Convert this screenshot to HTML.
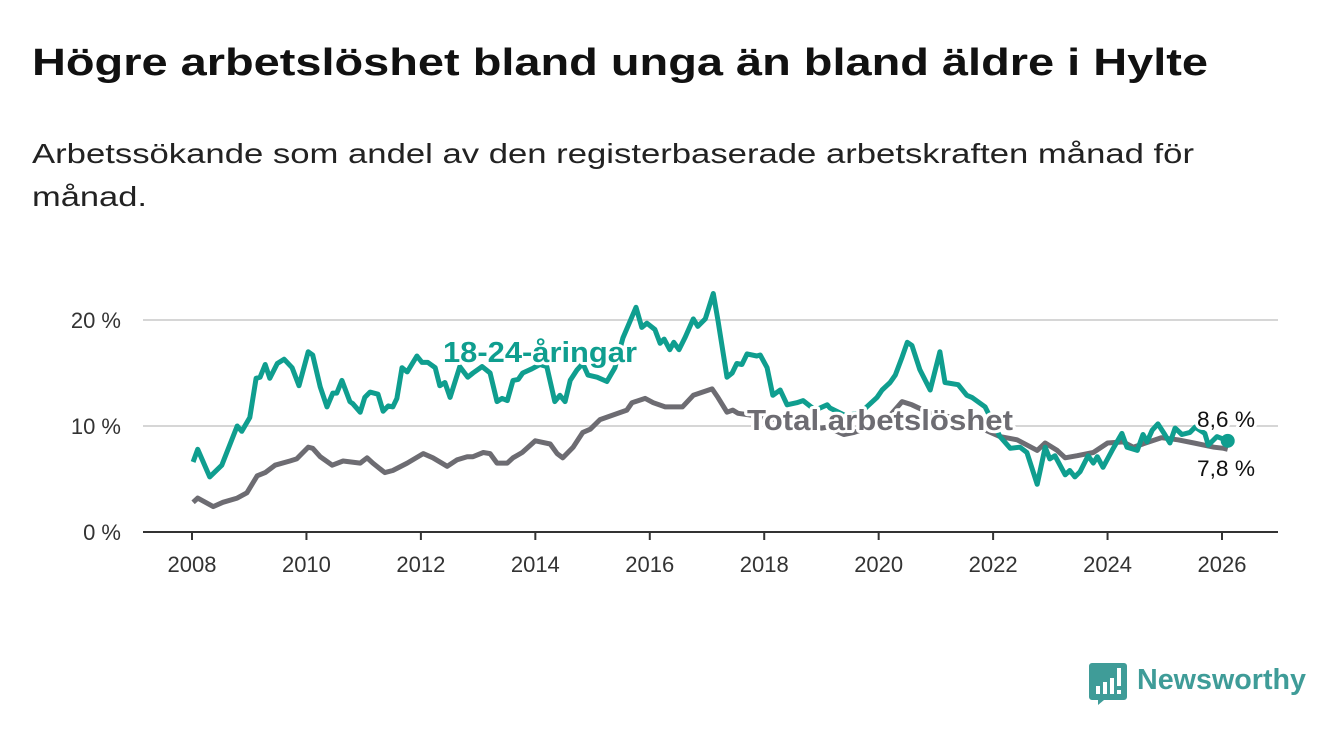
<!DOCTYPE html>
<html><head><meta charset="utf-8">
<style>
html,body{margin:0;padding:0;background:#fff;}
svg{display:block;font-family:"Liberation Sans",sans-serif;}
</style></head>
<body>
<svg id="chart" width="1340" height="734" viewBox="0 0 1340 734">
  <text x="32" y="75" font-size="38" font-weight="bold" fill="#111" textLength="1176" lengthAdjust="spacingAndGlyphs">Högre arbetslöshet bland unga än bland äldre i Hylte</text>
  <text x="32" y="163" font-size="28" fill="#222" textLength="1162" lengthAdjust="spacingAndGlyphs">Arbetssökande som andel av den registerbaserade arbetskraften månad för</text>
  <text x="32" y="206" font-size="28" fill="#222" textLength="115" lengthAdjust="spacingAndGlyphs">månad.</text>
  <g id="grid"></g>
  <g id="xaxis"></g>
  <g id="yaxis"></g>
  <g id="series"></g>
  <g id="labels"></g>
  <g>
    <path d="M1092 663 h32 a3 3 0 0 1 3 3 v31 a3 3 0 0 1 -3 3 h-20 l-6 5 v-5 h-6 a3 3 0 0 1 -3 -3 v-31 a3 3 0 0 1 3 -3z" fill="#3f9c98"/>
    <rect x="1096" y="686" width="4" height="8" fill="#fff"/>
    <rect x="1103" y="682" width="4" height="12" fill="#fff"/>
    <rect x="1110" y="678" width="4" height="16" fill="#fff"/>
    <rect x="1117" y="668" width="4" height="18" fill="#fff"/>
    <rect x="1117" y="690" width="4" height="4" fill="#fff"/>
    <text x="1137" y="689" font-size="29" font-weight="bold" fill="#3f9c98" textLength="169" lengthAdjust="spacingAndGlyphs">Newsworthy</text>
  </g>
</svg>
<script>
const youthYears=[2008.02,2008.10,2008.31,2008.52,2008.79,2008.87,2009.01,2009.12,2009.19,2009.28,2009.36,2009.49,2009.61,2009.75,2009.87,2010.03,2010.11,2010.24,2010.36,2010.46,2010.53,2010.62,2010.76,2010.81,2010.94,2011.02,2011.11,2011.25,2011.34,2011.43,2011.51,2011.58,2011.67,2011.76,2011.93,2012.02,2012.12,2012.25,2012.33,2012.42,2012.51,2012.68,2012.82,2012.91,2013.07,2013.21,2013.33,2013.42,2013.51,2013.61,2013.70,2013.78,2013.94,2014.08,2014.20,2014.34,2014.43,2014.52,2014.61,2014.73,2014.83,2014.92,2015.08,2015.25,2015.39,2015.53,2015.76,2015.86,2015.95,2016.09,2016.18,2016.25,2016.35,2016.42,2016.51,2016.62,2016.76,2016.84,2016.97,2017.11,2017.19,2017.35,2017.44,2017.52,2017.61,2017.70,2017.87,2017.93,2018.05,2018.15,2018.28,2018.40,2018.57,2018.68,2018.89,2019.10,2019.15,2019.41,2019.67,2019.97,2020.06,2020.20,2020.29,2020.41,2020.50,2020.58,2020.72,2020.90,2021.07,2021.16,2021.39,2021.54,2021.63,2021.86,2022.12,2022.30,2022.47,2022.59,2022.77,2022.91,2022.99,2023.08,2023.26,2023.34,2023.43,2023.52,2023.66,2023.75,2023.82,2023.92,2024.08,2024.25,2024.34,2024.52,2024.62,2024.69,2024.78,2024.88,2025.00,2025.09,2025.18,2025.30,2025.44,2025.53,2025.70,2025.76,2025.91,2026.10];
const youthValues=[6.6,7.8,5.2,6.3,10.0,9.5,10.8,14.5,14.6,15.8,14.5,15.9,16.3,15.5,13.8,17.0,16.7,13.7,11.8,13.1,13.1,14.3,12.3,12.1,11.3,12.7,13.2,13.0,11.4,11.9,11.8,12.6,15.5,15.1,16.6,16.0,16.0,15.5,13.8,14.1,12.7,15.6,14.6,15.0,15.6,15.0,12.3,12.6,12.4,14.3,14.4,15.0,15.4,15.8,15.6,12.3,12.9,12.3,14.3,15.3,15.9,14.8,14.6,14.2,15.5,18.3,21.2,19.3,19.7,19.1,17.8,18.2,17.2,17.9,17.2,18.4,20.1,19.4,20.1,22.5,20.0,14.6,15.0,15.9,15.8,16.8,16.6,16.7,15.5,12.9,13.4,12.0,12.2,12.4,11.5,12.0,11.7,11.0,11.2,12.7,13.4,14.1,14.8,16.5,17.9,17.6,15.3,13.4,17.0,14.1,13.9,12.9,12.7,11.8,9.0,7.9,8.0,7.5,4.5,8.0,6.9,7.2,5.4,5.8,5.2,5.7,7.2,6.5,7.1,6.1,7.7,9.3,8.0,7.7,9.2,8.5,9.6,10.2,9.2,8.4,9.8,9.2,9.4,9.9,9.3,8.2,9.0,8.6];
const totalYears=[2008.02,2008.10,2008.37,2008.54,2008.79,2008.96,2009.14,2009.28,2009.45,2009.71,2009.83,2010.03,2010.11,2010.24,2010.45,2010.64,2010.94,2011.06,2011.16,2011.37,2011.51,2011.76,2012.04,2012.21,2012.46,2012.63,2012.81,2012.91,2013.09,2013.21,2013.33,2013.51,2013.61,2013.77,2014.00,2014.26,2014.38,2014.48,2014.66,2014.83,2014.96,2015.13,2015.34,2015.60,2015.69,2015.92,2016.06,2016.27,2016.57,2016.76,2017.09,2017.19,2017.35,2017.45,2017.54,2017.80,2018.20,2018.60,2019.00,2019.10,2019.39,2019.57,2019.90,2020.20,2020.41,2020.58,2020.90,2021.30,2021.70,2022.12,2022.42,2022.77,2022.91,2023.12,2023.26,2023.47,2023.75,2024.00,2024.27,2024.45,2024.94,2025.23,2025.51,2025.86,2026.03,2026.10];
const totalValues=[2.8,3.2,2.4,2.8,3.2,3.7,5.3,5.6,6.3,6.7,6.9,8.0,7.9,7.1,6.3,6.7,6.5,7.0,6.5,5.6,5.8,6.5,7.4,7.0,6.2,6.8,7.1,7.1,7.5,7.4,6.5,6.5,7.0,7.5,8.6,8.3,7.4,7.0,8.0,9.4,9.7,10.6,11.0,11.5,12.2,12.6,12.2,11.8,11.8,12.9,13.5,12.7,11.3,11.5,11.2,11.0,10.6,10.2,9.8,9.9,9.2,9.4,10.0,11.0,12.3,12.0,11.2,10.8,10.0,9.0,8.7,7.7,8.4,7.7,7.0,7.2,7.5,8.4,8.5,8.0,8.9,8.7,8.4,8.0,7.9,7.8];
const yTicks=[0,10,20];
const yTickLabels=["0 %","10 %","20 %"];
const xTicks=[2008,2010,2012,2014,2016,2018,2020,2022,2024,2026];
const endLabels=["8,6 %","7,8 %"];

const NS="http://www.w3.org/2000/svg";
const X0=192,X1=1222,Y0=532,YPER=10.6;
function xs(y){return X0+(y-2008)*(X1-X0)/18;}
function ys(v){return Y0-v*YPER;}
function mk(tag,attrs,parent){const e=document.createElementNS(NS,tag);for(const k in attrs)e.setAttribute(k,attrs[k]);parent.appendChild(e);return e;}
const grid=document.getElementById('grid'),xa=document.getElementById('xaxis'),ya=document.getElementById('yaxis'),ser=document.getElementById('series'),lab=document.getElementById('labels');
yTicks.forEach((t,i)=>{
  if(t>0){const l=mk('line',{x1:143,x2:1278,y1:ys(t),y2:ys(t),stroke:'#d6d6d6','stroke-width':2},grid);
  
  }
  const tx=mk('text',{x:121,y:ys(t)+8,'font-size':22,fill:'#333','text-anchor':'end'},ya);
  
  
  tx.textContent=yTickLabels[i];
});
const base=mk('line',{x1:143,x2:1278,y1:Y0,y2:Y0,stroke:'#333','stroke-width':2},xa);


xTicks.forEach(t=>{
  const tk=mk('line',{x1:xs(t),x2:xs(t),y1:Y0,y2:Y0+8,stroke:'#333','stroke-width':2},xa);
  
  
  const tx=mk('text',{x:xs(t),y:572,'font-size':22,fill:'#333','text-anchor':'middle'},xa);
  
  
  tx.textContent=t;
});
function pts(a,b){return a.map((y,i)=>xs(y).toFixed(1)+','+ys(b[i]).toFixed(1)).join(' ');}
const tl=mk('polyline',{points:pts(totalYears,totalValues),fill:'none',stroke:'#6d6c72','stroke-width':5,'stroke-linejoin':'round'},ser);


const yl=mk('polyline',{points:pts(youthYears,youthValues),fill:'none',stroke:'#0f9e8f','stroke-width':5,'stroke-linejoin':'round'},ser);


const yd=mk('circle',{cx:xs(youthYears[youthYears.length-1]),cy:ys(youthValues[youthValues.length-1]),r:7,fill:'#0f9e8f'},ser);


function label(txt,x,y,size,color,bold,name,len){
  const t=mk('text',{x:x,y:y,'font-size':size,fill:color,'font-weight':bold?'bold':'normal',stroke:'#fff','stroke-width':6,'paint-order':'stroke','stroke-linejoin':'round',textLength:len,lengthAdjust:'spacingAndGlyphs'},lab);
  
  
  t.textContent=txt;return t;
}
label('18-24-åringar',443,362,29,'#0f9e8f',true,'youth-series-label',194);
label('Total arbetslöshet',747,430,29,'#6d6c72',true,'total-series-label',266);
label(endLabels[0],1197,427,22,'#111',false,'youth-end-value',58);
label(endLabels[1],1197,476,22,'#111',false,'total-end-value',58);
</script>
</body></html>
